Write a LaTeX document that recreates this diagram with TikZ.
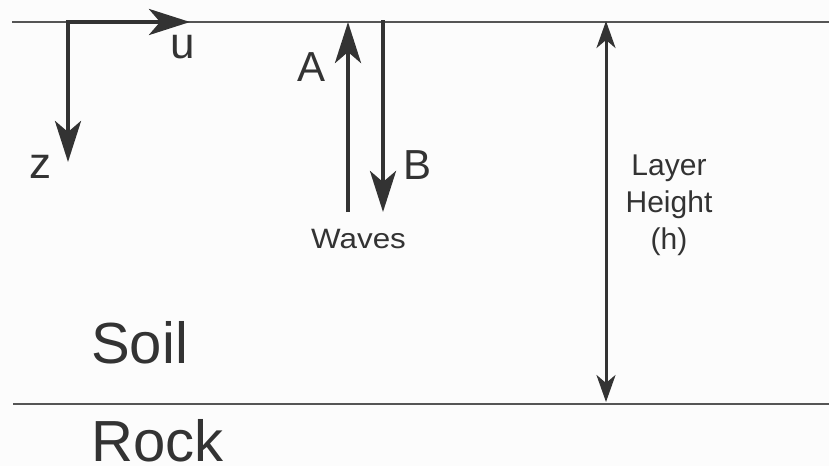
\documentclass[tikz,border=0pt]{standalone}
\usepackage{fontspec}
\setmainfont{Liberation Sans}
\usetikzlibrary{arrows.meta}
\definecolor{ink}{HTML}{333333}
\definecolor{linegray}{HTML}{555555}
\definecolor{bg}{HTML}{FCFCFC}
\tikzset{
  boundary/.style={draw=linegray, line width=1.8pt},
  bigarrow/.style={draw=ink, line width=4.5pt, -{Stealth[length=41pt, width=26pt, inset=11pt]}},
  dimarrow/.style={draw=ink, line width=3pt, {Stealth[length=27pt, width=19pt, inset=8pt]}-{Stealth[length=27pt, width=19pt, inset=8pt]}},
  lbl/.style={text=ink, inner sep=0pt, anchor=base west},
}
\newcommand{\fs}[1]{\fontsize{#1}{#1}\selectfont}
\begin{document}
\begin{tikzpicture}[x=1pt, y=-1pt]
  \fill[bg] (0,0) rectangle (829,466);
  \useasboundingbox (0,0) rectangle (829,466);
  % layer boundaries
  \coordinate (tl) at (12,22);
  \coordinate (tr) at (829,22);
  \coordinate (bl) at (13,404);
  \coordinate (br) at (829,404);
  \draw[boundary] (tl) -- (tr);
  \draw[boundary] (bl) -- (br);
  % axes
  \coordinate (o) at (68,22);
  \coordinate (ue) at (190,22);
  \coordinate (ze) at (68,162);
  \draw[bigarrow] ([xshift=-2.25pt]o) -- (ue);
  \draw[bigarrow] (o) -- (ze);
  \node[lbl, font=\fs{44}] (u) at (170,58) {u};
  \node[lbl, font=\fs{44}] (z) at (29,178) {z};
  % waves
  \coordinate (a0) at (348,212);
  \coordinate (a1) at (348,22);
  \coordinate (b0) at (383,20);
  \coordinate (b1) at (383,212);
  \draw[bigarrow] (a0) -- (a1);
  \draw[bigarrow] (b0) -- (b1);
  \node[lbl, font=\fs{42}] (A) at (297,81) {A};
  \node[lbl, font=\fs{42}] (B) at (403,179) {B};
  \node[lbl, font=\fs{28}, xscale=1.12] (W) at (311,248) {Waves};
  % layer height
  \coordinate (h0) at (606,21);
  \coordinate (h1) at (606,402);
  \draw[dimarrow] (h0) -- (h1);
  \node[text=ink, inner sep=0pt, anchor=base, font=\fs{30}] (L1) at (669,175) {Layer};
  \node[text=ink, inner sep=0pt, anchor=base, font=\fs{30}] (L2) at (669,212) {Height};
  \node[text=ink, inner sep=0pt, anchor=base, font=\fs{30}] (L3) at (669,249) {(h)};
  % materials
  \node[lbl, font=\fs{58}] (soil) at (91,363) {Soil};
  \node[lbl, font=\fs{58}] (rock) at (91,461) {Rock};
\end{tikzpicture}
\end{document}
